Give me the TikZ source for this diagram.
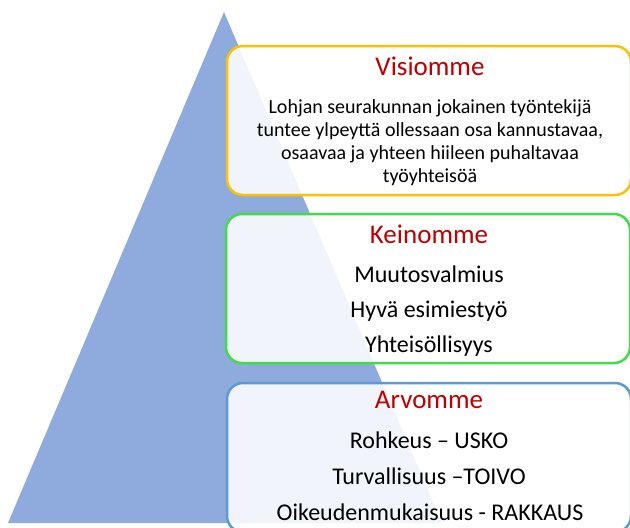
\documentclass[tikz,border=0pt]{standalone}
\usepackage{fontspec}
\setmainfont{Carlito}
\definecolor{pyramid}{HTML}{8FAADC}
\definecolor{visiongold}{HTML}{FFC000}
\definecolor{meansgreen}{HTML}{40DD48}
\definecolor{valueblue}{HTML}{5B9BD5}
\definecolor{headred}{HTML}{C00000}
\tikzset{
  layer/.style={draw=#1, line width=2.5pt, rounded corners=16pt,
    fill=white, fill opacity=0.88,
    minimum width=404pt, minimum height=149pt},
  heading/.style={anchor=base, inner sep=0pt, text=headred,
    font=\fontsize{27}{31}\selectfont},
  item/.style={anchor=base, inner sep=0pt, align=center,
    font=\fontsize{24}{28}\selectfont},
  vision text/.style={anchor=base, inner sep=0pt, align=center,
    font=\fontsize{20}{22.7}\selectfont}
}

\begin{document}
\begin{tikzpicture}[x=1pt,y=-1pt]
\useasboundingbox (0,0) rectangle (630,528);
% pyramid
\fill[pyramid] (224,12) -- (8,523) -- (442,523) -- cycle;
% vision
\node[layer=visiongold] (vision) at (429,120.5) {};
\node[heading] (visionhead) at (430,75) {Visiomme};
\node[vision text] (visiontext) at (430,182)
  {Lohjan seurakunnan jokainen työntekijä\\
   tuntee ylpeyttä ollessaan osa kannustavaa,\\
   osaavaa ja yhteen hiileen puhaltavaa\\
   työyhteisöä};
% means
\node[layer=meansgreen] (means) at (428,288.5) {};
\node[heading] (meanshead) at (429,243) {Keinomme};
\node[item] (change) at (429,282) {Muutosvalmius};
\node[item] (lead) at (429,317) {Hyvä esimiestyö};
\node[item] (community) at (429,352) {Yhteisöllisyys};
% values
\node[layer=valueblue] (values) at (429,457.5) {};
\node[heading] (valueshead) at (429,408) {Arvomme};
\node[item] (courage) at (429,448) {Rohkeus – USKO};
\node[item] (safety) at (429,484) {Turvallisuus –TOIVO};
\node[item] (justice) at (430,520) {Oikeudenmukaisuus - RAKKAUS};
\end{tikzpicture}
\end{document}
